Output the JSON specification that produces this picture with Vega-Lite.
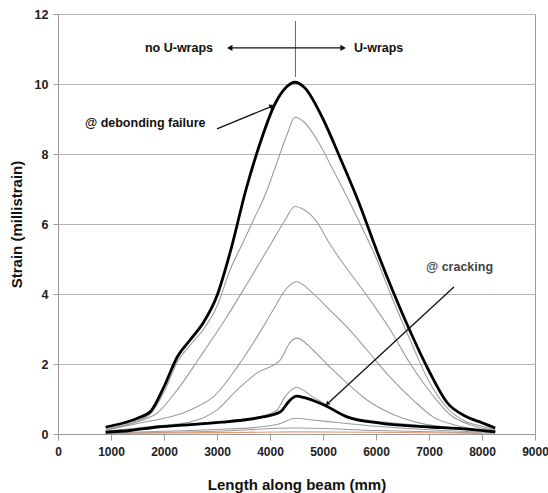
{
  "$schema": "https://vega.github.io/schema/vega-lite/v6.json",
  "width": 477,
  "height": 420,
  "autosize": "none",
  "padding": {"left": 58, "top": 14, "right": 13, "bottom": 59},
  "background": "white",
  "config": {
    "view": {"stroke": "#9a9a9a", "strokeWidth": 1},
    "font": "Liberation Sans"
  },
  "datasets": {
    "curves": [
      {"s": "A", "x": 900, "y": 0.2}, {"s": "A", "x": 1200, "y": 0.3}, {"s": "A", "x": 1500, "y": 0.45}, {"s": "A", "x": 1750, "y": 0.65}, {"s": "A", "x": 2000, "y": 1.35}, {"s": "A", "x": 2250, "y": 2.2}, {"s": "A", "x": 2500, "y": 2.7}, {"s": "A", "x": 2750, "y": 3.2}, {"s": "A", "x": 3000, "y": 3.95}, {"s": "A", "x": 3250, "y": 5.2}, {"s": "A", "x": 3550, "y": 7.0}, {"s": "A", "x": 3800, "y": 8.25}, {"s": "A", "x": 4100, "y": 9.45}, {"s": "A", "x": 4300, "y": 9.9}, {"s": "A", "x": 4470, "y": 10.05}, {"s": "A", "x": 4650, "y": 9.9}, {"s": "A", "x": 5000, "y": 9.0}, {"s": "A", "x": 5320, "y": 7.9}, {"s": "A", "x": 5640, "y": 6.75}, {"s": "A", "x": 6075, "y": 5.0}, {"s": "A", "x": 6300, "y": 4.15}, {"s": "A", "x": 6640, "y": 2.95}, {"s": "A", "x": 7000, "y": 1.8}, {"s": "A", "x": 7340, "y": 0.9}, {"s": "A", "x": 7700, "y": 0.5}, {"s": "A", "x": 8000, "y": 0.32}, {"s": "A", "x": 8250, "y": 0.17},
      {"s": "B", "x": 900, "y": 0.15}, {"s": "B", "x": 1500, "y": 0.38}, {"s": "B", "x": 1750, "y": 0.58}, {"s": "B", "x": 2000, "y": 1.2}, {"s": "B", "x": 2250, "y": 2.05}, {"s": "B", "x": 2500, "y": 2.55}, {"s": "B", "x": 2750, "y": 3.0}, {"s": "B", "x": 3000, "y": 3.65}, {"s": "B", "x": 3250, "y": 4.7}, {"s": "B", "x": 3500, "y": 5.5}, {"s": "B", "x": 3700, "y": 6.15}, {"s": "B", "x": 3900, "y": 6.8}, {"s": "B", "x": 4130, "y": 7.75}, {"s": "B", "x": 4320, "y": 8.55}, {"s": "B", "x": 4470, "y": 9.05}, {"s": "B", "x": 4650, "y": 8.9}, {"s": "B", "x": 4890, "y": 8.4}, {"s": "B", "x": 5190, "y": 7.55}, {"s": "B", "x": 5640, "y": 6.2}, {"s": "B", "x": 6020, "y": 4.97}, {"s": "B", "x": 6300, "y": 3.9}, {"s": "B", "x": 6640, "y": 2.7}, {"s": "B", "x": 7000, "y": 1.5}, {"s": "B", "x": 7340, "y": 0.75}, {"s": "B", "x": 7700, "y": 0.35}, {"s": "B", "x": 8000, "y": 0.22}, {"s": "B", "x": 8250, "y": 0.12},
      {"s": "C", "x": 900, "y": 0.12}, {"s": "C", "x": 1500, "y": 0.35}, {"s": "C", "x": 1870, "y": 0.6}, {"s": "C", "x": 2250, "y": 1.26}, {"s": "C", "x": 2680, "y": 2.2}, {"s": "C", "x": 3110, "y": 3.17}, {"s": "C", "x": 3570, "y": 4.3}, {"s": "C", "x": 4060, "y": 5.54}, {"s": "C", "x": 4280, "y": 6.1}, {"s": "C", "x": 4470, "y": 6.5}, {"s": "C", "x": 4650, "y": 6.4}, {"s": "C", "x": 4890, "y": 6.05}, {"s": "C", "x": 5100, "y": 5.5}, {"s": "C", "x": 5320, "y": 5.0}, {"s": "C", "x": 5830, "y": 3.95}, {"s": "C", "x": 6260, "y": 3.0}, {"s": "C", "x": 6650, "y": 2.0}, {"s": "C", "x": 7075, "y": 1.1}, {"s": "C", "x": 7400, "y": 0.55}, {"s": "C", "x": 7800, "y": 0.25}, {"s": "C", "x": 8250, "y": 0.1},
      {"s": "D", "x": 900, "y": 0.1}, {"s": "D", "x": 1500, "y": 0.3}, {"s": "D", "x": 2000, "y": 0.45}, {"s": "D", "x": 2360, "y": 0.6}, {"s": "D", "x": 2650, "y": 0.8}, {"s": "D", "x": 2930, "y": 1.06}, {"s": "D", "x": 3380, "y": 1.91}, {"s": "D", "x": 3870, "y": 3.06}, {"s": "D", "x": 4100, "y": 3.65}, {"s": "D", "x": 4280, "y": 4.1}, {"s": "D", "x": 4500, "y": 4.35}, {"s": "D", "x": 4810, "y": 4.02}, {"s": "D", "x": 5130, "y": 3.54}, {"s": "D", "x": 5450, "y": 3.06}, {"s": "D", "x": 5830, "y": 2.4}, {"s": "D", "x": 6260, "y": 1.63}, {"s": "D", "x": 6700, "y": 0.97}, {"s": "D", "x": 7075, "y": 0.49}, {"s": "D", "x": 7500, "y": 0.25}, {"s": "D", "x": 8250, "y": 0.07},
      {"s": "E", "x": 900, "y": 0.08}, {"s": "E", "x": 1500, "y": 0.17}, {"s": "E", "x": 2000, "y": 0.25}, {"s": "E", "x": 2490, "y": 0.34}, {"s": "E", "x": 3000, "y": 0.69}, {"s": "E", "x": 3380, "y": 1.26}, {"s": "E", "x": 3750, "y": 1.74}, {"s": "E", "x": 4190, "y": 2.11}, {"s": "E", "x": 4380, "y": 2.62}, {"s": "E", "x": 4510, "y": 2.74}, {"s": "E", "x": 4810, "y": 2.4}, {"s": "E", "x": 5130, "y": 1.91}, {"s": "E", "x": 5450, "y": 1.46}, {"s": "E", "x": 5830, "y": 0.97}, {"s": "E", "x": 6260, "y": 0.6}, {"s": "E", "x": 6830, "y": 0.31}, {"s": "E", "x": 7600, "y": 0.16}, {"s": "E", "x": 8250, "y": 0.08},
      {"s": "F", "x": 900, "y": 0.06}, {"s": "F", "x": 1500, "y": 0.15}, {"s": "F", "x": 2000, "y": 0.22}, {"s": "F", "x": 2500, "y": 0.28}, {"s": "F", "x": 3000, "y": 0.35}, {"s": "F", "x": 3500, "y": 0.42}, {"s": "F", "x": 3870, "y": 0.52}, {"s": "F", "x": 4130, "y": 0.68}, {"s": "F", "x": 4280, "y": 1.06}, {"s": "F", "x": 4500, "y": 1.33}, {"s": "F", "x": 4810, "y": 1.06}, {"s": "F", "x": 5130, "y": 0.77}, {"s": "F", "x": 5450, "y": 0.52}, {"s": "F", "x": 6000, "y": 0.36}, {"s": "F", "x": 6500, "y": 0.29}, {"s": "F", "x": 7000, "y": 0.22}, {"s": "F", "x": 7500, "y": 0.15}, {"s": "F", "x": 8250, "y": 0.07},
      {"s": "G", "x": 900, "y": 0.05}, {"s": "G", "x": 1360, "y": 0.1}, {"s": "G", "x": 1870, "y": 0.2}, {"s": "G", "x": 2500, "y": 0.27}, {"s": "G", "x": 3110, "y": 0.34}, {"s": "G", "x": 3500, "y": 0.4}, {"s": "G", "x": 3870, "y": 0.49}, {"s": "G", "x": 4190, "y": 0.63}, {"s": "G", "x": 4380, "y": 0.97}, {"s": "G", "x": 4500, "y": 1.08}, {"s": "G", "x": 4650, "y": 1.04}, {"s": "G", "x": 4990, "y": 0.85}, {"s": "G", "x": 5450, "y": 0.49}, {"s": "G", "x": 6075, "y": 0.31}, {"s": "G", "x": 7020, "y": 0.2}, {"s": "G", "x": 7530, "y": 0.16}, {"s": "G", "x": 8250, "y": 0.06},
      {"s": "H", "x": 900, "y": 0.03}, {"s": "H", "x": 2000, "y": 0.08}, {"s": "H", "x": 3000, "y": 0.13}, {"s": "H", "x": 3800, "y": 0.2}, {"s": "H", "x": 4200, "y": 0.3}, {"s": "H", "x": 4470, "y": 0.45}, {"s": "H", "x": 4800, "y": 0.4}, {"s": "H", "x": 5320, "y": 0.32}, {"s": "H", "x": 6000, "y": 0.22}, {"s": "H", "x": 7000, "y": 0.12}, {"s": "H", "x": 8250, "y": 0.04},
      {"s": "I", "x": 900, "y": 0.02}, {"s": "I", "x": 3000, "y": 0.08}, {"s": "I", "x": 4470, "y": 0.17}, {"s": "I", "x": 6000, "y": 0.1}, {"s": "I", "x": 8250, "y": 0.02}
    ],
    "orange": [
      {"x": 1000, "y": 0.02}, {"x": 3000, "y": 0.04}, {"x": 4500, "y": 0.06}, {"x": 6000, "y": 0.05}, {"x": 8000, "y": 0.02}
    ]
  },
  "encoding": {
    "x": {"field": "x", "type": "quantitative", "scale": {"domain": [0, 9000], "nice": false},
      "axis": {"values": [0, 1000, 2000, 3000, 4000, 5000, 6000, 7000, 8000, 9000], "format": "d", "grid": false, "domainColor": "#9a9a9a", "tickColor": "#9a9a9a", "tickSize": 6, "labelPadding": 6, "labelFont": "Liberation Sans", "labelFontSize": 12, "labelFontWeight": "bold", "labelColor": "#222", "labelFlush": false, "title": "Length along beam (mm)", "titleFont": "Liberation Sans", "titleFontSize": 15, "titleFontWeight": "bold", "titleColor": "#111", "titleBaseline": "alphabetic", "titleY": 55}},
    "y": {"field": "y", "type": "quantitative", "scale": {"domain": [0, 12], "nice": false},
      "axis": {"values": [0, 2, 4, 6, 8, 10, 12], "grid": true, "gridColor": "#b5b5b5", "gridWidth": 1, "domainColor": "#9a9a9a", "tickColor": "#9a9a9a", "tickSize": 5, "labelPadding": 5, "labelFont": "Liberation Sans", "labelFontSize": 12.5, "labelFontWeight": "bold", "labelColor": "#222", "labelFlush": false, "title": "Strain (millistrain)", "titleFont": "Liberation Sans", "titleFontSize": 15, "titleFontWeight": "bold", "titleColor": "#111", "titleBaseline": "alphabetic", "titleX": -37}}
  },
  "layer": [
    {
      "data": {"name": "curves"},
      "transform": [{"filter": "datum.s != 'A' && datum.s != 'G'"}],
      "mark": {"type": "line", "color": "#9c9c9c", "strokeWidth": 1.1, "interpolate": "monotone"},
      "encoding": {"detail": {"field": "s"}}
    },
    {
      "data": {"name": "orange"},
      "mark": {"type": "line", "color": "#e39a72", "strokeWidth": 1.2, "interpolate": "monotone"},
      "encoding": {}
    },
    {
      "data": {"name": "curves"},
      "transform": [{"filter": "datum.s == 'A' || datum.s == 'G'"}],
      "mark": {"type": "line", "color": "#000", "strokeWidth": 2.8, "interpolate": "monotone"},
      "encoding": {"detail": {"field": "s"}}
    },
    {
      "data": {"values": [{"x": 4480, "y": 10.2, "y2": 11.8}]},
      "mark": {"type": "rule", "color": "#666", "strokeWidth": 1},
      "encoding": {"y2": {"field": "y2"}}
    },
    {
      "data": {"values": [
        {"x": 3250, "y": 11.03, "x2": 5370, "y2": 11.03},
        {"x": 3000, "y": 8.72, "x2": 4030, "y2": 9.36},
        {"x": 7470, "y": 4.2, "x2": 5090, "y2": 0.87}
      ]},
      "mark": {"type": "rule", "color": "#111", "strokeWidth": 1.3},
      "encoding": {"x2": {"field": "x2"}, "y2": {"field": "y2"}}
    },
    {
      "data": {"values": [{"x": 3240, "y": 11.03}]},
      "mark": {"type": "point", "shape": "triangle-left", "filled": true, "color": "#111", "opacity": 1, "size": 40}
    },
    {
      "data": {"values": [{"x": 5380, "y": 11.03}]},
      "mark": {"type": "point", "shape": "triangle-right", "filled": true, "color": "#111", "opacity": 1, "size": 40}
    },
    {
      "data": {"values": [{"x": 4040, "y": 9.37}]},
      "mark": {"type": "point", "shape": "triangle-right", "filled": true, "color": "#111", "opacity": 1, "size": 36, "angle": 335}
    },
    {
      "data": {"values": [{"x": 5080, "y": 0.86}]},
      "mark": {"type": "point", "shape": "triangle-right", "filled": true, "color": "#111", "opacity": 1, "size": 24, "angle": 137}
    },
    {
      "data": {"values": [{"label": "no U-wraps", "x": 2925, "y": 11.03}]},
      "mark": {"type": "text", "align": "right", "baseline": "middle", "font": "Liberation Sans", "fontSize": 12.5, "fontWeight": "bold", "color": "#111"},
      "encoding": {"text": {"field": "label"}}
    },
    {
      "data": {"values": [
        {"label": "U-wraps", "x": 5585, "y": 11.03},
        {"label": "@ debonding failure", "x": 509, "y": 8.89}
      ]},
      "mark": {"type": "text", "align": "left", "baseline": "middle", "font": "Liberation Sans", "fontSize": 12.5, "fontWeight": "bold", "color": "#111"},
      "encoding": {"text": {"field": "label"}}
    },
    {
      "data": {"values": [{"label": "@ cracking", "x": 6943, "y": 4.77}]},
      "mark": {"type": "text", "align": "left", "baseline": "middle", "font": "Liberation Sans", "fontSize": 12.5, "fontWeight": "bold", "color": "#444"},
      "encoding": {"text": {"field": "label"}}
    }
  ]
}
